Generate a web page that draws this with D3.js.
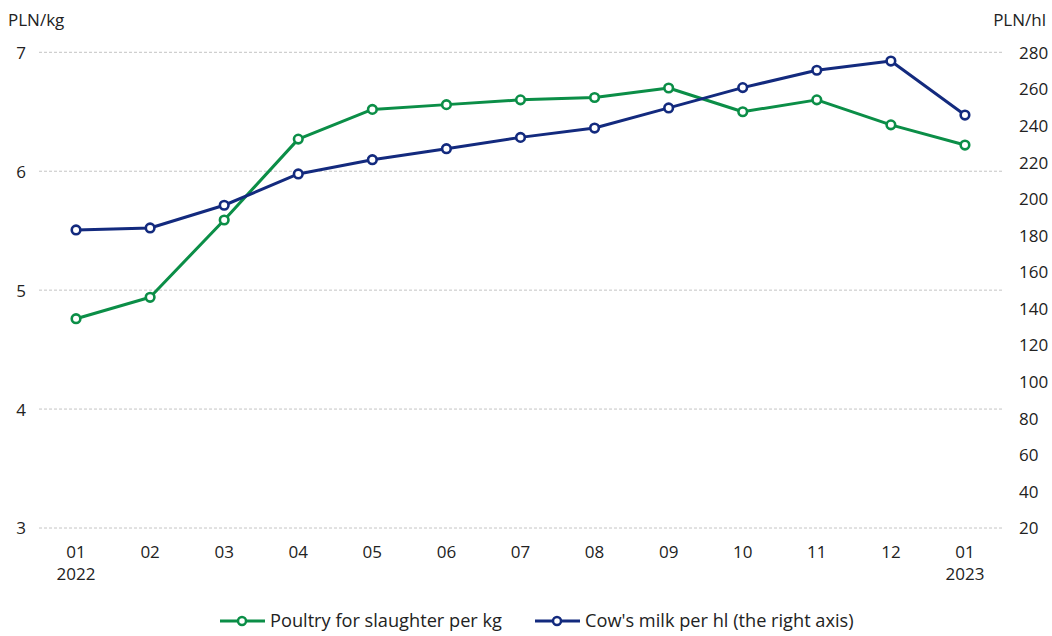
<!DOCTYPE html>
<html>
<head>
<meta charset="utf-8">
<script src="https://cdn.jsdelivr.net/npm/d3@7"></script>
<style>
  body { margin: 0; background: #fff; }
  text { font-family: "Open Sans", "Noto Sans", sans-serif; fill: #222; }
</style>
</head>
<body>
<svg width="1052" height="636"></svg>
<script>
const months = ['01', '02', '03', '04', '05', '06', '07', '08', '09', '10', '11', '12', '01']
const years = ['2022', '', '', '', '', '', '', '', '', '', '', '', '2023']
const poultry = [4.76, 4.94, 5.59, 6.27, 6.52, 6.56, 6.60, 6.62, 6.70, 6.50, 6.60, 6.39, 6.22]
const milk = [182.9, 184.0, 196.4, 213.5, 221.3, 227.3, 233.5, 238.6, 249.6, 260.7, 270.2, 275.2, 245.7]
const leftTicks = [3, 4, 5, 6, 7]
const rightTicks = [20, 40, 60, 80, 100, 120, 140, 160, 180, 200, 220, 240, 260, 280]

const green = '#0b8e47'
const navy = '#132a7e'

const svg = d3.select('svg')
const plotLeft = 39, plotRight = 1002, plotTop = 52.3, plotBottom = 528

const x = d3.scalePoint()
  .domain(d3.range(months.length))
  .range([plotLeft, plotRight])
  .padding(0.5)

const yL = d3.scaleLinear().domain([3, 7]).range([plotBottom, plotTop])
const yR = d3.scaleLinear().domain([20, 280]).range([plotBottom, plotTop])

// grid
svg.append('g').selectAll('line')
  .data(leftTicks)
  .enter()
  .append('line')
  .attr('x1', plotLeft)
  .attr('x2', plotRight)
  .attr('y1', d => yL(d))
  .attr('y2', d => yL(d))
  .attr('stroke', '#c4c4c4')
  .attr('stroke-width', 1)
  .attr('stroke-dasharray', '3,2')

// left axis
const leftAxis = svg.append('g')
  .attr('transform', `translate(${plotLeft - 13},0)`)
  .call(d3.axisLeft(yL).tickValues(leftTicks).tickFormat(d3.format('d')).tickSize(0).tickPadding(0))
leftAxis.select('.domain').remove()
leftAxis.selectAll('text').attr('font-size', 17).attr('dy', '0.35em')

// right axis
const rightAxis = svg.append('g')
  .attr('transform', `translate(${plotRight + 17},0)`)
  .call(d3.axisRight(yR).tickValues(rightTicks).tickFormat(d3.format('d')).tickSize(0).tickPadding(0))
rightAxis.select('.domain').remove()
rightAxis.selectAll('text').attr('font-size', 17).attr('dy', '0.35em')

svg.append('text').attr('x', 8).attr('y', 26).attr('font-size', 17).text('PLN/kg')
svg.append('text').attr('x', 1046).attr('y', 26).attr('font-size', 17)
  .attr('text-anchor', 'end').text('PLN/hl')

// x labels
const xg = svg.append('g')
xg.selectAll('.m')
  .data(months)
  .enter()
  .append('text')
  .attr('x', (d, i) => x(i))
  .attr('y', 558)
  .attr('text-anchor', 'middle')
  .attr('font-size', 17)
  .text(d => d)
xg.selectAll('.yr')
  .data(years)
  .enter()
  .append('text')
  .attr('x', (d, i) => x(i))
  .attr('y', 580)
  .attr('text-anchor', 'middle')
  .attr('font-size', 17)
  .text(d => d)

function drawSeries(values, yScale, color) {
  const line = d3.line()
    .x((d, i) => x(i))
    .y(d => yScale(d))
  svg.append('path')
    .datum(values)
    .attr('d', line)
    .attr('fill', 'none')
    .attr('stroke', color)
    .attr('stroke-width', 3)
    .attr('stroke-linejoin', 'round')
  svg.append('g').selectAll('circle')
    .data(values)
    .enter()
    .append('circle')
    .attr('cx', (d, i) => x(i))
    .attr('cy', d => yScale(d))
    .attr('r', 4.3)
    .attr('fill', '#fff')
    .attr('stroke', color)
    .attr('stroke-width', 2.6)
}

drawSeries(poultry, yL, green)
drawSeries(milk, yR, navy)

// legend
const legend = [
  { name: 'Poultry for slaughter per kg', color: green, x: 220 },
  { name: "Cow's milk per hl (the right axis)", color: navy, x: 535 }
]
const lg = svg.append('g').selectAll('g')
  .data(legend)
  .enter()
  .append('g')
  .attr('transform', d => `translate(${d.x},621)`)
lg.append('line')
  .attr('x1', 0).attr('x2', 45)
  .attr('stroke', d => d.color)
  .attr('stroke-width', 3)
lg.append('circle')
  .attr('cx', 22).attr('r', 4)
  .attr('fill', '#fff')
  .attr('stroke', d => d.color)
  .attr('stroke-width', 2.5)
lg.append('text')
  .attr('x', 50)
  .attr('dy', '0.35em')
  .attr('font-size', 18.2)
  .text(d => d.name)
</script>
</body>
</html>
